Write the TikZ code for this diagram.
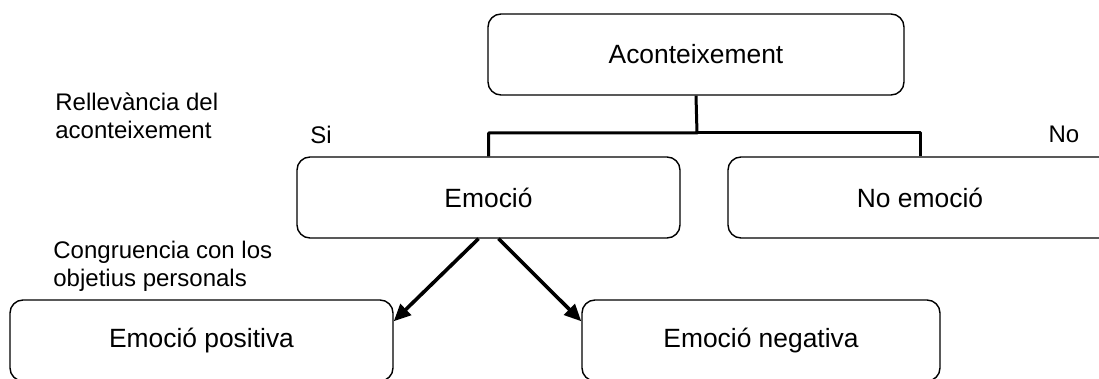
\documentclass[tikz,border=0pt]{standalone}
\usepackage{fontspec}
\setmainfont{Liberation Sans}
\usetikzlibrary{arrows.meta,calc}

\begin{document}
\begin{tikzpicture}[
    x=0.5pt,y=-0.5pt,
    line join=round,
    every node/.style={font=\fontsize{13.2}{15.8}\selectfont},
    box/.style={
        draw=black,
        line width=0.7pt,
        rounded corners=6.5pt,
        inner sep=0pt,
        minimum height=40.5pt
    },
    branch/.style={line width=1.5pt},
    choice/.style={
        line width=1.8pt,
        -{Triangle[length=8.5pt,width=7.5pt]}
    },
    lab/.style={font=\fontsize{12}{13.8}\selectfont},
    crit/.style={
        font=\fontsize{12}{13.8}\selectfont,
        align=left,
        anchor=west,
        inner sep=0pt
    }
]

\useasboundingbox (0,0) rectangle (1099,379);
\clip (0,0) rectangle (1099,379);

% ============================================================
% boxes
% ============================================================

\node[box,minimum width=208pt] (acont) at (696,54.5) {Aconteixement};

\node[box,minimum width=191.5pt] (emo) at (488.5,197.5) {Emoció};
\node[box,minimum width=192pt] (noemo) at (920,197.5) {No emoció};

\node[box,minimum width=191.5pt] (pos) at (201.5,340.5) {Emoció positiva};
\node[box,minimum width=179pt] (neg) at (761,340.5) {Emoció negativa};

% ============================================================
% labels
% ============================================================

\node[crit] (rell) at (55,116) {Rellevància del\\aconteixement};
\node[lab] (si) at (321,135) {Si};
\node[lab] (no) at (1064,134) {No};

\node[crit] (congr) at (53,266) {Congruencia con los\\objetius personals};

% ============================================================
% connectors
% ============================================================

\coordinate (split) at (697,133);
\draw[branch] (acont.south) -- (split) -| (emo.north);
\draw[branch] (split) -| (noemo.north);

\draw[choice] ([xshift=-5pt]emo.south) -- ([yshift=-11pt]pos.north east);
\draw[choice] ([xshift=5pt]emo.south) -- ([yshift=-11pt]neg.north west);

\end{tikzpicture}
\end{document}
